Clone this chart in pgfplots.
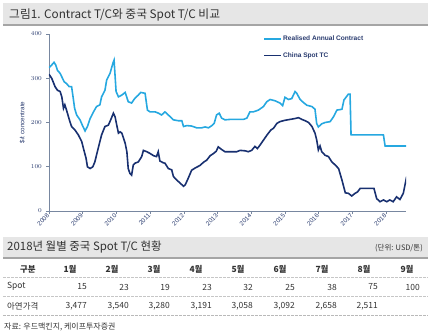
\documentclass[border=0pt]{standalone}
\usepackage{fontspec}
\setmainfont{Liberation Sans}
\newfontfamily\kr{Noto Sans CJK KR}
\usepackage{pgfplots}
\pgfplotsset{compat=1.18}
\definecolor{lblue}{RGB}{38,168,224}
\definecolor{navy}{RGB}{24,48,112}
\definecolor{axgray}{RGB}{120,135,160}
\definecolor{tnavy}{RGB}{40,58,110}
\definecolor{barfill}{RGB}{230,230,230}
\definecolor{barline}{RGB}{165,165,165}
\definecolor{txt}{RGB}{50,50,50}
\begin{document}
\begin{tikzpicture}[x=1bp,y=-1bp]
\useasboundingbox (0,0) rectangle (431,335);
% title bar
\fill[barfill] (3,3) rectangle (428,25);
\draw[barline, line width=1.2bp] (3,25) -- (428,25);
\node[anchor=west, inner sep=0, text=txt, font=\kr\fontsize{11.8}{12}\selectfont] at (9,14.5) {그림1. Contract T/C와 중국 Spot T/C 비교};
\begin{axis}[
  at={(49bp,-211bp)}, anchor=south west,
  scale only axis, width=357bp, height=177bp,
  xmin=2008, xmax=2018.59, ymin=0, ymax=400,
  axis x line*=bottom, axis y line*=left,
  axis line style={-, color=axgray, line width=0.8bp},
  tick align=outside, major tick length=3bp,
  tick style={color=axgray, line width=0.6bp},
  xtick={2008,2009,2010,2011,2012,2013,2014,2015,2016,2017,2018},
  xticklabels={2008,2009,2010,2011,2012,2013,2014,2015,2016,2017,2018},
  ytick={0,100,200,300,400},
  xticklabel style={font=\fontsize{6.3}{7}\selectfont, text=tnavy, rotate=45, anchor=east, inner sep=1pt},
  yticklabel style={font=\bfseries\fontsize{6}{7}\selectfont, text=tnavy, inner sep=1pt, xshift=-3bp},
  ylabel={\$/t concentrate},
  ylabel style={at={(axis description cs:-0.075,0.5)}, anchor=center, font=\fontsize{6.3}{7}\selectfont, text=tnavy},
  legend style={at={(0.6,0.995)}, anchor=north west, draw=none, fill=none, inner sep=0pt, row sep=8bp,
    font=\bfseries\fontsize{6.6}{7}\selectfont, text=tnavy, nodes={inner sep=1pt}},
  legend cell align=left,
  legend image code/.code={\draw[#1, line width=1.8bp] (0bp,0bp) -- (17bp,0bp);},
]
\addplot[lblue, line width=1.6bp] coordinates {
(2008.00,324)(2008.08,330)(2008.15,336)(2008.20,330)(2008.25,318)(2008.33,311)(2008.40,300)
(2008.45,292)(2008.52,288)(2008.60,281)(2008.67,281)(2008.71,260)(2008.76,232)(2008.82,217)
(2008.92,206)(2009.00,192)(2009.07,181)(2009.14,191)(2009.22,209)(2009.32,224)(2009.41,236)
(2009.51,240)(2009.56,258)(2009.66,273)(2009.71,296)(2009.81,311)(2009.90,335)(2009.93,341)
(2009.99,270)(2010.06,258)(2010.16,262)(2010.26,268)(2010.35,247)(2010.45,244)(2010.55,255)
(2010.65,262)(2010.72,268)(2010.85,266)(2010.92,228)(2011.00,224)(2011.15,224)(2011.25,221)
(2011.34,217)(2011.44,224)(2011.54,217)(2011.69,206)(2011.84,204)(2011.94,204)(2011.99,191)
(2012.09,193)(2012.23,192)(2012.38,188)(2012.53,188)(2012.63,190)(2012.73,188)(2012.83,193)
(2012.90,198)(2012.97,217)(2013.05,221)(2013.12,210)(2013.22,206)(2013.37,207)(2013.57,207)
(2013.77,207)(2013.87,210)(2013.96,224)(2014.06,224)(2014.21,228)(2014.36,236)(2014.46,247)
(2014.56,252)(2014.71,249)(2014.85,244)(2014.93,238)(2015.00,257)(2015.10,252)(2015.20,254)
(2015.30,270)(2015.35,266)(2015.45,252)(2015.55,245)(2015.65,239)(2015.80,236)(2015.89,230)
(2015.94,198)(2015.99,190)(2016.09,197)(2016.19,200)(2016.34,202)(2016.44,213)(2016.54,228)
(2016.69,230)(2016.75,251)(2016.88,264)(2016.93,264)(2016.96,172)(2017.92,172)(2017.97,147)
(2018.61,147)};
\addlegendentry{Realised Annual Contract}
\addplot[navy, line width=1.6bp] coordinates {
(2008.00,309)(2008.08,300)(2008.18,281)(2008.25,273)(2008.33,270)(2008.38,258)(2008.43,232)
(2008.47,240)(2008.52,228)(2008.62,202)(2008.67,191)(2008.77,183)(2008.87,172)(2008.97,157)
(2009.02,142)(2009.10,119)(2009.14,100)(2009.22,96)(2009.30,100)(2009.36,111)(2009.46,142)
(2009.56,172)(2009.66,191)(2009.76,194)(2009.83,206)(2009.91,221)(2009.96,213)(2010.01,194)
(2010.06,176)(2010.11,179)(2010.16,176)(2010.26,153)(2010.31,134)(2010.35,96)(2010.40,85)
(2010.45,81)(2010.50,104)(2010.55,108)(2010.65,111)(2010.75,123)(2010.80,137)(2010.90,134)
(2011.00,130)(2011.10,125)(2011.19,123)(2011.24,134)(2011.29,113)(2011.39,109)(2011.44,108)
(2011.54,96)(2011.64,93)(2011.69,78)(2011.79,70)(2011.89,63)(2011.99,56)(2012.04,59)
(2012.13,74)(2012.23,92)(2012.33,97)(2012.48,103)(2012.58,110)(2012.68,115)(2012.78,125)
(2012.88,130)(2012.96,135)(2013.02,145)(2013.12,139)(2013.22,134)(2013.37,134)(2013.57,134)
(2013.67,137)(2013.82,136)(2013.91,134)(2014.01,137)(2014.11,146)(2014.18,141)(2014.26,149)
(2014.36,160)(2014.46,171)(2014.58,183)(2014.66,187)(2014.76,198)(2014.85,202)(2015.00,205)
(2015.15,207)(2015.30,209)(2015.40,211)(2015.50,207)(2015.60,204)(2015.70,200)(2015.80,191)
(2015.89,176)(2015.94,161)(2015.99,138)(2016.04,147)(2016.09,134)(2016.19,126)(2016.29,123)
(2016.39,111)(2016.49,104)(2016.59,96)(2016.69,70)(2016.79,41)(2016.88,40)(2016.98,34)
(2017.08,40)(2017.15,43)(2017.23,51)(2017.53,51)(2017.64,51)(2017.72,28)(2017.82,21)
(2017.92,25)(2018.02,21)(2018.11,25)(2018.21,21)(2018.31,32)(2018.41,26)(2018.51,40)
(2018.61,78)};
\addlegendentry{China Spot TC}
\end{axis}
% second bar
\fill[barfill] (3,237) rectangle (428,258);
\draw[barline, line width=1.2bp] (3,258) -- (428,258);
\node[anchor=west, inner sep=0, text=txt, font=\kr\fontsize{11.5}{12}\selectfont] at (7,247.5) {2018년 월별 중국 Spot T/C 현황};
\node[anchor=east, inner sep=0, text=txt, font=\kr\fontsize{7.5}{8}\selectfont] at (423,248) {(단위: USD/톤)};
% table
\begin{scope}[every node/.style={inner sep=0, text=txt, font=\kr\fontsize{8.5}{9}\selectfont}]
\node[font=\kr\bfseries\fontsize{8.5}{9}\selectfont] at (28,269) {구분};
\node[font=\kr\bfseries\fontsize{8.5}{9}\selectfont] at (70,269) {1월};
\node[font=\kr\bfseries\fontsize{8.5}{9}\selectfont] at (112,269) {2월};
\node[font=\kr\bfseries\fontsize{8.5}{9}\selectfont] at (154,269) {3월};
\node[font=\kr\bfseries\fontsize{8.5}{9}\selectfont] at (196,269) {4월};
\node[font=\kr\bfseries\fontsize{8.5}{9}\selectfont] at (238,269) {5월};
\node[font=\kr\bfseries\fontsize{8.5}{9}\selectfont] at (280,269) {6월};
\node[font=\kr\bfseries\fontsize{8.5}{9}\selectfont] at (322,269) {7월};
\node[font=\kr\bfseries\fontsize{8.5}{9}\selectfont] at (364,269) {8월};
\node[font=\kr\bfseries\fontsize{8.5}{9}\selectfont] at (407,269) {9월};
\node[anchor=west] at (7,286.5) {Spot};
\node[anchor=east] at (87,287) {15};
\node[anchor=east] at (129,287) {23};
\node[anchor=east] at (170,287) {19};
\node[anchor=east] at (212,287) {23};
\node[anchor=east] at (253,287) {32};
\node[anchor=east] at (295,287) {25};
\node[anchor=east] at (337,287) {38};
\node[anchor=east] at (378,287) {75};
\node[anchor=east] at (420,287) {100};
\node[anchor=west] at (7,306) {아연가격};
\node[anchor=east] at (87,306) {3,477};
\node[anchor=east] at (129,306) {3,540};
\node[anchor=east] at (170,306) {3,280};
\node[anchor=east] at (212,306) {3,191};
\node[anchor=east] at (253,306) {3,058};
\node[anchor=east] at (295,306) {3,092};
\node[anchor=east] at (337,306) {2,658};
\node[anchor=east] at (378,306) {2,511};
\node[anchor=west, font=\kr\fontsize{8}{9}\selectfont] at (4,327) {자료: 우드맥킨지, 케이프투자증권};
\end{scope}
\draw[gray!45, line width=0.7bp, dash pattern=on 3bp off 1bp] (3,277) -- (428,277);
\draw[gray!45, line width=0.7bp, dash pattern=on 3bp off 1bp] (3,296) -- (428,296);
\draw[gray!55, line width=0.8bp, dash pattern=on 3bp off 1bp] (3,315) -- (428,315);
\end{tikzpicture}
\end{document}
